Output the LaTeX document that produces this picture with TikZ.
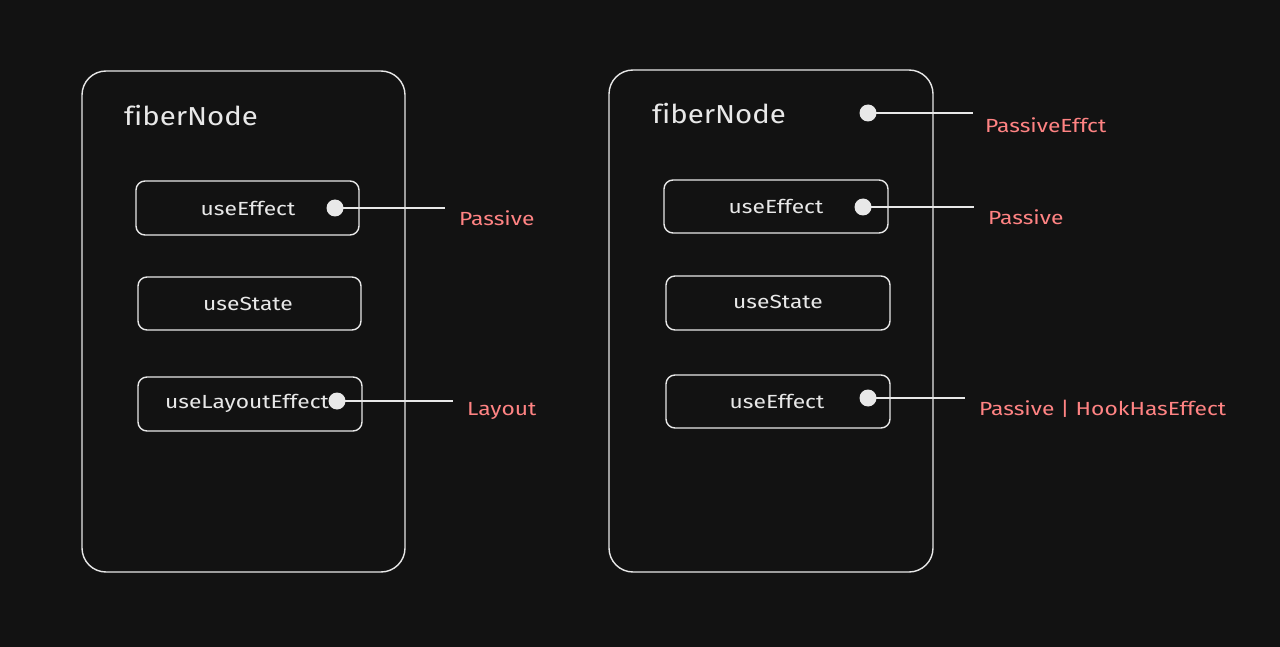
\documentclass[tikz,border=0pt]{standalone}
\usepackage{fontspec}
\setmainfont[Ligatures=NoCommon]{Fira Sans}
\definecolor{bg}{HTML}{121212}
\definecolor{strokec}{HTML}{E8E8E8}
\definecolor{labelc}{HTML}{FF8383}
\begin{document}
\begin{tikzpicture}[x=1pt,y=-1pt,
  outer/.style={draw=strokec,line width=1.4pt,rounded corners=24pt},
  inner/.style={draw=strokec,line width=1.4pt,rounded corners=9pt},
  title/.style={text=strokec,font=\fontsize{26}{30}\selectfont\addfontfeature{FakeStretch=1.13},anchor=west,inner sep=0pt},
  itext/.style={text=strokec,font=\fontsize{19}{22}\selectfont\addfontfeature{FakeStretch=1.2},inner sep=0pt},
  lab/.style={text=labelc,font=\fontsize{19}{22}\selectfont\addfontfeature{FakeStretch=1.2},anchor=west,inner sep=0pt},
  dotc/.style={circle,fill=strokec,inner sep=0pt,minimum size=17pt},
  conn/.style={draw=strokec,line width=1.2pt}]
\fill[bg] (0,0) rectangle (1280,647);
\useasboundingbox (0,0) rectangle (1280,647);
% left
\draw[outer] (82,71) rectangle (405,572);
\node[title] (t1) at (124,116) {fiberNode};
\draw[inner] (136,181) rectangle (359,235);
\node[itext] (a1) at (248,208) {useEffect};
\draw[inner] (138,277) rectangle (361,330);
\node[itext] (b1) at (248,304) {useState};
\draw[inner] (138,377) rectangle (362,431);
\node[itext] (c1) at (247,403) {useLayoutEffect};
\node[dotc] (d1) at (335,208) {};
\coordinate (e1) at (445,208);
\draw[conn] (d1.center) -- (e1);
\node[lab] (l1) at (459,218) {Passive};
\node[dotc] (d2) at (337,401) {};
\coordinate (e2) at (453,401);
\draw[conn] (d2.center) -- (e2);
\node[lab] (l2) at (467,411) {Layout};
% right
\draw[outer] (609,70) rectangle (933,572);
\node[title] (t2) at (652,114) {fiberNode};
\draw[inner] (664,180) rectangle (888,233);
\node[itext] (a2) at (776,206) {useEffect};
\draw[inner] (666,276) rectangle (890,330);
\node[itext] (b2) at (778,302) {useState};
\draw[inner] (666,375) rectangle (890,428);
\node[itext] (c2) at (777,401) {useEffect};
\node[dotc] (d3) at (868,113) {};
\coordinate (e3) at (973,113);
\draw[conn] (d3.center) -- (e3);
\node[lab] (l3) at (985,125) {PassiveEffct};
\node[dotc] (d4) at (863,207) {};
\coordinate (e4) at (974,207);
\draw[conn] (d4.center) -- (e4);
\node[lab] (l4) at (988,217) {Passive};
\node[dotc] (d5) at (868,398) {};
\coordinate (e5) at (965,398);
\draw[conn] (d5.center) -- (e5);
\node[lab] (l5) at (979,409) {Passive | HookHasEffect};
\end{tikzpicture}
\end{document}
